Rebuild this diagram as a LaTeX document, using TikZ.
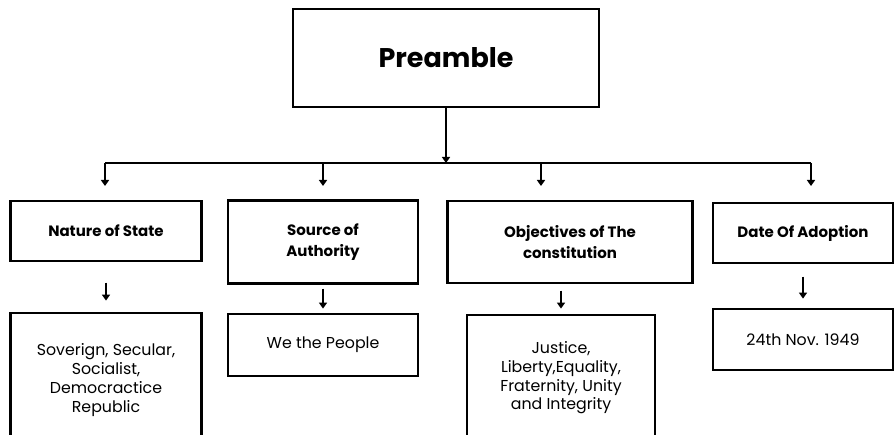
\documentclass[tikz,border=0pt]{standalone}
\usepackage{fontspec}
\setmainfont{Poppins}
\usetikzlibrary{arrows.meta}
\begin{document}
\begin{tikzpicture}[x=1pt, y=-1pt,
        box/.style={draw, line width=2.8pt, align=center, inner sep=2pt},
        head/.style={box, font=\fontsize{15}{21}\selectfont\bfseries},
        body/.style={box, font=\fontsize{15.8}{18.7}\selectfont},
        conn/.style={line width=1.9pt},
        arr/.style={conn, -{Triangle[width=8pt, length=6pt]}}]
        \useasboundingbox (0,0) rectangle (896,435);
        \clip (0,0) rectangle (896,435);

        % Hlavni box
        \node[box, minimum width=306, minimum height=98, font=\fontsize{27}{30}\selectfont\bfseries] (pre) at (446, 58) {Preamble};

        % Sbernice
        \coordinate (t1) at (105, 163);
        \coordinate (t2) at (323, 163);
        \coordinate (t3) at (541, 163);
        \coordinate (t4) at (811, 163);
        \draw[arr] (pre.south) -- (pre.south |- t1);
        \draw[conn] (t1) -- (t4);

        % Kategorie
        \node[head, minimum width=191, minimum height=60] (n1) at (106, 231) {Nature of State};
        \node[head, minimum width=190, minimum height=83] (n2) at (323, 242) {Source of\\Authority};
        \node[head, minimum width=245, minimum height=82] (n3) at (570, 242) {Objectives of The\\constitution};
        \node[head, minimum width=180, minimum height=60] (n4) at (803, 233) {Date Of Adoption};

        \foreach \t in {t1, t2, t3, t4}
            \draw[arr] (\t) -- ++(0, 23);

        % Obsah
        \node[body, minimum width=191, minimum height=134] (d1) at (106, 380) {Soverign, Secular,\\Socialist,\\Democractice\\Republic};
        \node[body, minimum width=190, minimum height=62] (d2) at (323, 345) {We the People};
        \node[body, minimum width=188, minimum height=126] (d3) at (561, 378) {Justice,\\Liberty,Equality,\\Fraternity, Unity\\and Integrity};
        \node[body, minimum width=180, minimum height=61] (d4) at (803, 339.5) {24th Nov. 1949};

        % Sipky dolu
        \draw[arr] ([yshift=29pt]d1.north) -- ([yshift=11pt]d1.north);
        \draw[arr] ([yshift=24pt]d2.north) -- ([yshift=4pt]d2.north);
        \draw[arr] ([yshift=23pt]d3.north) -- ([yshift=5pt]d3.north);
        \draw[arr] ([yshift=31pt]d4.north) -- ([yshift=9pt]d4.north);
    \end{tikzpicture}
\end{document}
